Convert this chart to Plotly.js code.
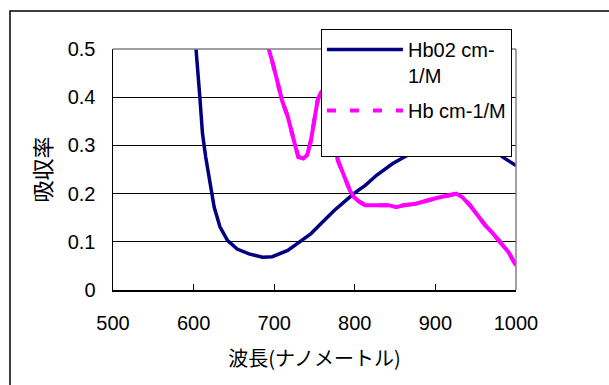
<!DOCTYPE html>
<html>
<head>
<meta charset="utf-8">
<script src="https://cdn.plot.ly/plotly-3.0.1.min.js"></script>
<style>html,body{margin:0;padding:0;background:#fff;}#chart{width:609px;height:385px;}</style>
</head>
<body>
<div id="chart"></div>
<script>
// Wavelength (nm) and absorbance
const hbo2Wavelength = [601, 603, 607.7, 611, 615, 620.7, 625.5, 632.7, 642, 654, 668.8, 685.6, 697.6, 716.8, 731, 745.7, 760, 774.5, 789, 798.6, 813, 827, 846.6, 865.9, 885, 899.5, 920, 940, 957, 971.6, 986, 1000];
const hbo2Absorbance = [0.53, 0.5, 0.401, 0.325, 0.276, 0.214, 0.172, 0.131, 0.103, 0.085, 0.075, 0.068, 0.069, 0.082, 0.099, 0.117, 0.141, 0.165, 0.186, 0.2, 0.217, 0.238, 0.262, 0.28, 0.292, 0.297, 0.31, 0.305, 0.297, 0.29, 0.273, 0.258];

const hbWavelength = [690, 692.8, 697.6, 703.4, 709.6, 716.8, 721.6, 726.4, 730, 736, 740.9, 745.7, 750.5, 754, 758, 764, 770, 775.5, 779, 784, 789, 793.8, 798.6, 805.8, 813, 827, 841.8, 851.4, 861, 875.5, 890, 904, 918.8, 926, 933, 942.8, 952.4, 962, 971.6, 981, 990.9, 1000];
const hbAbsorbance = [0.52, 0.5, 0.474, 0.436, 0.394, 0.36, 0.325, 0.297, 0.276, 0.273, 0.28, 0.311, 0.36, 0.394, 0.41, 0.42, 0.37, 0.296, 0.269, 0.249, 0.224, 0.207, 0.193, 0.183, 0.176, 0.176, 0.176, 0.172, 0.176, 0.179, 0.186, 0.192, 0.197, 0.2, 0.193, 0.176, 0.155, 0.134, 0.117, 0.099, 0.078, 0.051];

const seriesNames = ["Hb02 cm-<br>1/M", "Hb cm-1/M<br> "];
const xTicks = [500, 600, 700, 800, 900, 1000];
const yTicks = [0, 0.1, 0.2, 0.3, 0.4, 0.5];

const FONT = '"Liberation Sans", Arial, "Noto Sans CJK JP", sans-serif';
const CJK = '"Noto Sans CJK JP", "Liberation Sans", sans-serif';

const traces = [
  {x: hbo2Wavelength, y: hbo2Absorbance, mode: 'lines', name: seriesNames[0],
   line: {color: '#000080', width: 3.5}, legendgroup: 'a'},
  {x: hbWavelength, y: hbAbsorbance, mode: 'lines', name: seriesNames[1], showlegend: false,
   line: {color: '#FF00FF', width: 4}, legendgroup: 'b'},
  {x: hbWavelength, y: hbAbsorbance, mode: 'lines', name: seriesNames[1],
   line: {color: '#FF00FF', width: 4, dash: '9px,14px'}, legendgroup: 'b'}
];

const layout = {
  width: 609, height: 385,
  margin: {l: 113, r: 93, t: 49, b: 95},
  paper_bgcolor: '#ffffff', plot_bgcolor: '#ffffff',
  font: {family: FONT, size: 20, color: '#000'},
  showlegend: true,
  legend: {
    x: 0.516, y: 1.083, xanchor: 'left', yanchor: 'top',
    bgcolor: '#ffffff', bordercolor: '#000', borderwidth: 1,
    font: {family: FONT, size: 20, color: '#000'},
    valign: 'top', itemwidth: 76, traceorder: 'grouped', tracegroupgap: 6
  },
  xaxis: {
    range: [500, 1000], tickvals: xTicks, ticktext: xTicks.map(String),
    showgrid: false, zeroline: false,
    showline: true, linecolor: '#000', linewidth: 1.5,
    ticks: 'inside', ticklen: 6, tickcolor: '#000', tickwidth: 1,
    ticklabelstandoff: 14,
    tickfont: {family: FONT, size: 20},
    title: {text: '波長(ナノメートル)', font: {family: CJK, size: 20}, standoff: 19}
  },
  yaxis: {
    range: [0, 0.5], tickvals: yTicks, ticktext: yTicks.map(String),
    showgrid: true, gridcolor: '#000', gridwidth: 1,
    zeroline: false,
    showline: true, linecolor: '#000', linewidth: 1.5,
    ticks: 'inside', ticklen: 5, tickcolor: '#000', tickwidth: 1,
    ticklabelstandoff: 12,
    tickfont: {family: FONT, size: 20},
    title: {text: '吸収率', font: {family: CJK, size: 22}, standoff: 10}
  },
  shapes: [
    {type: 'line', xref: 'paper', yref: 'paper', x0: 0, x1: 1, y0: 1, y1: 1,
     line: {color: '#808080', width: 1.5}, layer: 'above'},
    {type: 'line', xref: 'paper', yref: 'paper', x0: 1, x1: 1, y0: 0, y1: 1,
     line: {color: '#808080', width: 1.5}, layer: 'above'},
    {type: 'rect', xref: 'paper', yref: 'paper', x0: -0.2556, x1: 1.3, y0: -0.5, y1: 1.1577,
     line: {color: '#000', width: 1.5}, fillcolor: 'rgba(0,0,0,0)', layer: 'below'}
  ]
};

Plotly.newPlot('chart', traces, layout, {staticPlot: true, displayModeBar: false});
</script>
</body>
</html>
